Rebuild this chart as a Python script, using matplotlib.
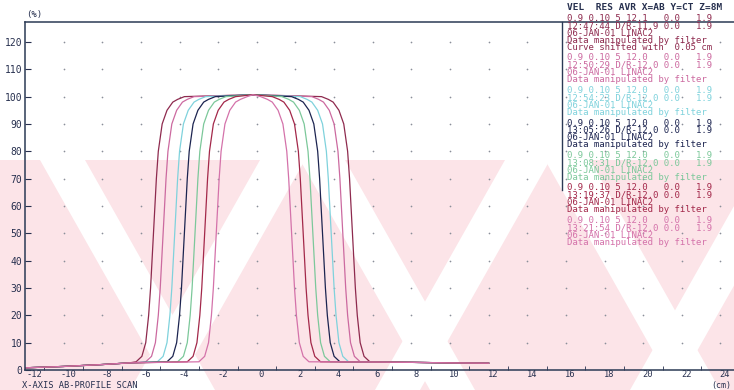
import numpy as np
import matplotlib.pyplot as plt
from matplotlib.patches import Polygon
from matplotlib.lines import Line2D
from matplotlib.transforms import ScaledTranslation

plt.rcParams['axes.unicode_minus'] = False

# dose levels (%) where the edge positions were read
levels = [3, 5, 10, 20, 30, 50, 70, 80, 90, 95, 98, 99, 100]

# out-of-field tails (shared by all scans)
left_tail_x = [-12, -10, -8, -6.6]
left_tail_y = [0.8, 1.3, 2.0, 2.6]
right_tail_x = [6.5, 8, 10, 12]
right_tail_y = [2.9, 2.8, 2.6, 2.5]
top_x = -0.2
top_y = 100.7

# left / right edge positions (cm) at each level, outermost scan first
left_edges = [
    [-6.25, -5.95, -5.75, -5.6, -5.5, -5.35, -5.2, -5.1, -4.9, -4.65, -4.35, -4.1, -3.75],
    [-5.75, -5.45, -5.25, -5.1, -5.0, -4.85, -4.7, -4.6, -4.4, -4.15, -3.85, -3.6, -3.25],
    [-5.15, -4.85, -4.65, -4.5, -4.4, -4.25, -4.1, -4.0, -3.8, -3.55, -3.25, -3.0, -2.65],
    [-4.65, -4.35, -4.15, -4.0, -3.9, -3.75, -3.6, -3.5, -3.3, -3.05, -2.75, -2.5, -2.15],
    [-4.1, -3.8, -3.6, -3.45, -3.35, -3.2, -3.05, -2.95, -2.75, -2.5, -2.2, -1.95, -1.6],
    [-3.6, -3.3, -3.1, -2.95, -2.85, -2.7, -2.55, -2.45, -2.25, -2.0, -1.7, -1.45, -1.1],
    [-3.0, -2.7, -2.5, -2.35, -2.25, -2.1, -1.95, -1.85, -1.65, -1.4, -1.1, -0.85, -0.5],
]
right_edges = [
    [5.85, 5.55, 5.35, 5.2, 5.1, 4.95, 4.8, 4.7, 4.5, 4.25, 3.95, 3.7, 3.35],
    [5.35, 5.05, 4.85, 4.7, 4.6, 4.45, 4.3, 4.2, 4.0, 3.75, 3.45, 3.2, 2.85],
    [4.75, 4.45, 4.25, 4.1, 4.0, 3.85, 3.7, 3.6, 3.4, 3.15, 2.85, 2.6, 2.25],
    [4.3, 4.0, 3.8, 3.65, 3.55, 3.4, 3.25, 3.15, 2.95, 2.7, 2.4, 2.15, 1.8],
    [3.8, 3.5, 3.3, 3.15, 3.05, 2.9, 2.75, 2.65, 2.45, 2.2, 1.9, 1.65, 1.3],
    [3.3, 3.0, 2.8, 2.65, 2.55, 2.4, 2.25, 2.15, 1.95, 1.7, 1.4, 1.15, 0.8],
    [2.7, 2.4, 2.2, 2.05, 1.95, 1.8, 1.65, 1.55, 1.35, 1.1, 0.8, 0.55, 0.2],
]
colors = ['#8e2a4e', '#cc6aa0', '#7fd2dc', '#1c2450', '#7cc89a', '#a3284a', '#d472aa']

legend_lines = [
    ['0.9 0.10 5 12.1   0.0   1.9', '12:47:44 D/R-11.9 0.0   1.9', '06-JAN-01 LINAC2',
     'Data manipulated by filter', 'Curve shifted with  0.05 cm'],
    ['0.9 0.10 5 12.0   0.0   1.9', '12:50:29 D/R-12.0 0.0   1.9', '06-JAN-01 LINAC2',
     'Data manipulated by filter'],
    ['0.9 0.10 5 12.0   0.0   1.9', '12:54:23 D/R-12.0 0.0   1.9', '06-JAN-01 LINAC2',
     'Data manipulated by filter'],
    ['0.9 0.10 5 12.0   0.0   1.9', '13:05:26 D/R-12.0 0.0   1.9', '06-JAN-01 LINAC2',
     'Data manipulated by filter'],
    ['0.9 0.10 5 12.0   0.0   1.9', '13:08:31 D/R-12.0 0.0   1.9', '06-JAN-01 LINAC2',
     'Data manipulated by filter'],
    ['0.9 0.10 5 12.0   0.0   1.9', '13:19:37 D/R-12.0 0.0   1.9', '06-JAN-01 LINAC2',
     'Data manipulated by filter'],
    ['0.9 0.10 5 12.0   0.0   1.9', '13:21:54 D/R-12.0 0.0   1.9', '06-JAN-01 LINAC2',
     'Data manipulated by filter'],
]

W, H = 734, 390
ink = '#27304f'
mono = 'DejaVu Sans Mono'

fig = plt.figure(figsize=(W / 100, H / 100), dpi=100)
fig.patch.set_facecolor('white')


def fp(x, y):
    # pixel (from top-left) -> figure fraction
    return (x / W, 1 - y / H)


# pink watermark band with white diagonal stripes
fig.add_artist(Polygon([fp(0, 160), fp(W, 160), fp(W, H), fp(0, H)], closed=True,
                       transform=fig.transFigure, facecolor='#fce4e8', edgecolor='none', zorder=0))
for x0 in [40, 300, 545]:
    fig.add_artist(Polygon([fp(x0, 160), fp(x0 + 45, 160), fp(x0 + 45 + 130, H), fp(x0 + 130, H)],
                           closed=True, transform=fig.transFigure, facecolor='white',
                           edgecolor='none', zorder=0))
for x0 in [260, 505, 760]:
    fig.add_artist(Polygon([fp(x0, 160), fp(x0 + 45, 160), fp(x0 + 45 - 130, H), fp(x0 - 130, H)],
                           closed=True, transform=fig.transFigure, facecolor='white',
                           edgecolor='none', zorder=0))

ax = fig.add_axes([25 / W, 1 - 370 / H, (W - 25) / W, 348 / H])
ax.patch.set_alpha(0)
ax.set_xlim(-12, 24.7)
ax.set_ylim(0, 127.3)

# dotted grid
gx, gy = np.meshgrid(np.arange(-10, 25, 2), np.arange(10, 121, 10))
ax.scatter(gx.ravel(), gy.ravel(), s=1.5, color='#8a8f9a', lw=0, zorder=1)

for le, re, c in zip(left_edges, right_edges, colors):
    xs = left_tail_x + le + [top_x] + re[::-1] + right_tail_x
    ys = left_tail_y + levels + [top_y] + levels[::-1] + right_tail_y
    ax.plot(xs, ys, color=c, lw=0.9, zorder=2)

for s in ['left', 'top', 'bottom']:
    ax.spines[s].set_color('#2b3a55')
    ax.spines[s].set_linewidth(1.1)
ax.spines['right'].set_visible(False)

ax.set_yticks(np.arange(0, 121, 10))
ax.tick_params(axis='y', direction='in', length=4, color=ink, labelsize=7,
               labelcolor=ink, pad=2)
for lbl in ax.get_yticklabels():
    lbl.set_fontfamily(mono)
ax.set_xticks(np.arange(-12, 25, 2))
ax.set_xticks(np.arange(-11, 24, 2), minor=True)
ax.tick_params(axis='x', which='major', length=0, labelsize=6.3, labelcolor=ink, pad=0)
ax.tick_params(axis='x', which='minor', direction='in', length=3, color=ink)
for i, lbl in enumerate(ax.get_xticklabels()):
    lbl.set_fontfamily(mono)
    shift = 0.09 if i == 0 else 0.045
    lbl.set_transform(lbl.get_transform() + ScaledTranslation(shift, 0, fig.dpi_scale_trans))

fig.text(*fp(26, 15), '(%)', fontsize=6.5, family=mono, color=ink, va='center')
fig.text(*fp(22, 390), 'X-AXIS AB-PROFILE SCAN', fontsize=6.3, family=mono, color=ink, va='bottom')
fig.text(*fp(721, 390), '(cm)', fontsize=6, family=mono, color=ink, va='bottom', ha='center')

# scan info box on the right
fig.add_artist(Line2D([562 / W, 562 / W], [1 - 22 / H, 1 - 190 / H], transform=fig.transFigure,
                      color='#2b3a55', lw=1.0))
fig.text(*fp(567, 8), 'VEL  RES AVR X=AB Y=CT Z=8M', fontsize=6.8, family=mono,
         color=ink, va='center', weight='bold')
top = 14
for lines, c in zip(legend_lines, colors):
    fig.text(*fp(567, top), '\n'.join(lines), fontsize=6.5, family=mono, color=c,
             va='top', ha='left', linespacing=0.76)
    top += (len(lines) - 1) * 7.0 + 11.5

fig.savefig('out.png', dpi=100)
